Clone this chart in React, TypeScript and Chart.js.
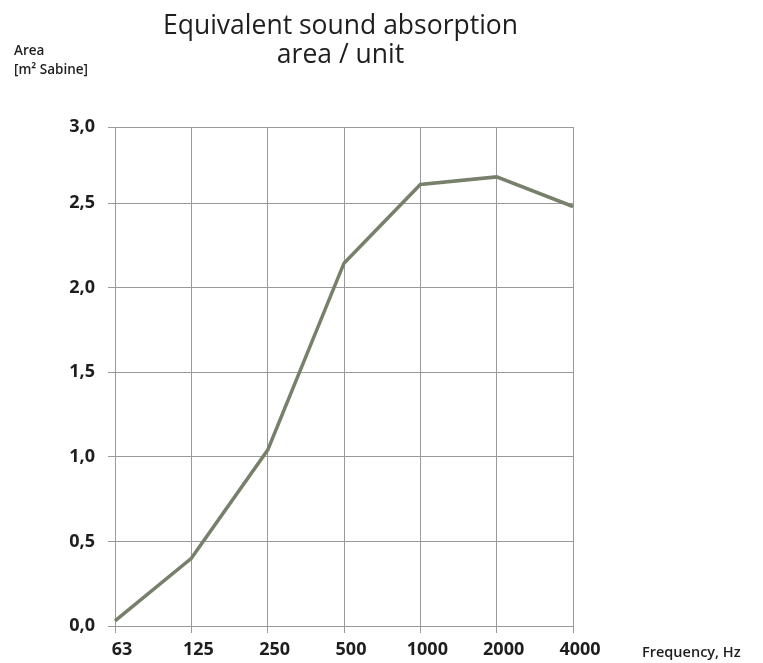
import React, { useEffect, useRef } from "react";
import { Chart, registerables } from "chart.js";

Chart.register(...registerables);

const frequencies = ["63", "125", "250", "500", "1000", "2000", "4000"];
const absorptionArea = [0.03, 0.4, 1.04, 2.145, 2.61, 2.655, 2.48];
const yTickValues = [0, 0.5, 1.0, 1.5, 2.0, 2.5, 2.95];
const yTickLabels = ["0,0", "0,5", "1,0", "1,5", "2,0", "2,5", "3,0"];
const titleLines = ["Equivalent sound absorption", "area / unit"];
const yAxisTitle = ["Area", "[m² Sabine]"];
const xAxisTitle = "Frequency, Hz";

const FONT = "'Open Sans', 'Noto Sans', sans-serif";

export default function App() {
  const ref = useRef<HTMLCanvasElement | null>(null);

  useEffect(() => {
    if (!ref.current) return;
    const textPlugin = {
      id: "texts",
      afterDraw(chart: any) {
        const ctx = chart.ctx;
        ctx.save();
        ctx.fillStyle = "#1e1e1e";
        ctx.textBaseline = "alphabetic";
        ctx.textAlign = "center";
        ctx.font = `26.5px ${FONT}`;
        ctx.fillText(titleLines[0], 340.5, 34);
        ctx.fillText(titleLines[1], 340.5, 63);
        ctx.textAlign = "left";
        ctx.font = `600 13.5px ${FONT}`;
        ctx.fillText(yAxisTitle[0], 14, 55);
        ctx.fillText(yAxisTitle[1], 14, 74);
        ctx.font = `600 14.5px ${FONT}`;
        ctx.fillText(xAxisTitle, 642, 657);
        ctx.restore();
      },
    };
    const chart = new Chart(ref.current, {
      type: "line",
      data: {
        labels: frequencies,
        datasets: [
          {
            data: absorptionArea,
            borderColor: "#76806a",
            borderWidth: 3.5,
            pointRadius: 0,
            tension: 0,
            fill: false,
          },
        ],
      },
      options: {
        animation: false,
        responsive: false,
        maintainAspectRatio: false,
        layout: { padding: { left: 0, right: 190, top: 127, bottom: 0 } },
        plugins: {
          legend: { display: false },
          title: { display: false },
          tooltip: { enabled: false },
        },
        scales: {
          x: {
            offset: false,
            grid: {
              color: "#9a9a9a",
              lineWidth: 1,
              tickLength: 7,
              drawTicks: true,
            },
            border: { color: "#9a9a9a", width: 1 },
            ticks: {
              color: "#1e1e1e",
              font: { family: FONT, size: 18, weight: "bold" },
              padding: 6,
              labelOffset: 7,
              maxRotation: 0,
              autoSkip: false,
            },
            afterFit(scale: any) {
              scale.height = 37;
            },
          },
          y: {
            min: 0,
            max: 2.95,
            afterBuildTicks(scale: any) {
              scale.ticks = yTickValues.map((v) => ({ value: v }));
            },
            grid: {
              color: "#9a9a9a",
              lineWidth: 1,
              tickLength: 7,
            },
            border: { color: "#9a9a9a", width: 1 },
            ticks: {
              color: "#1e1e1e",
              font: { family: FONT, size: 18, weight: "bold" },
              padding: 13,
              callback(value: any) {
                const i = yTickValues.indexOf(Number(value));
                return i >= 0 ? yTickLabels[i] : "";
              },
            },
            afterFit(scale: any) {
              scale.width = 115;
            },
          },
        },
      },
      plugins: [textPlugin],
    });
    return () => chart.destroy();
  }, []);

  return (
    <div style={{ position: "fixed", left: 0, top: 0, width: 763, height: 663, background: "#fff" }}>
      <canvas ref={ref} width={763} height={663} style={{ width: 763, height: 663 }} />
    </div>
  );
}
